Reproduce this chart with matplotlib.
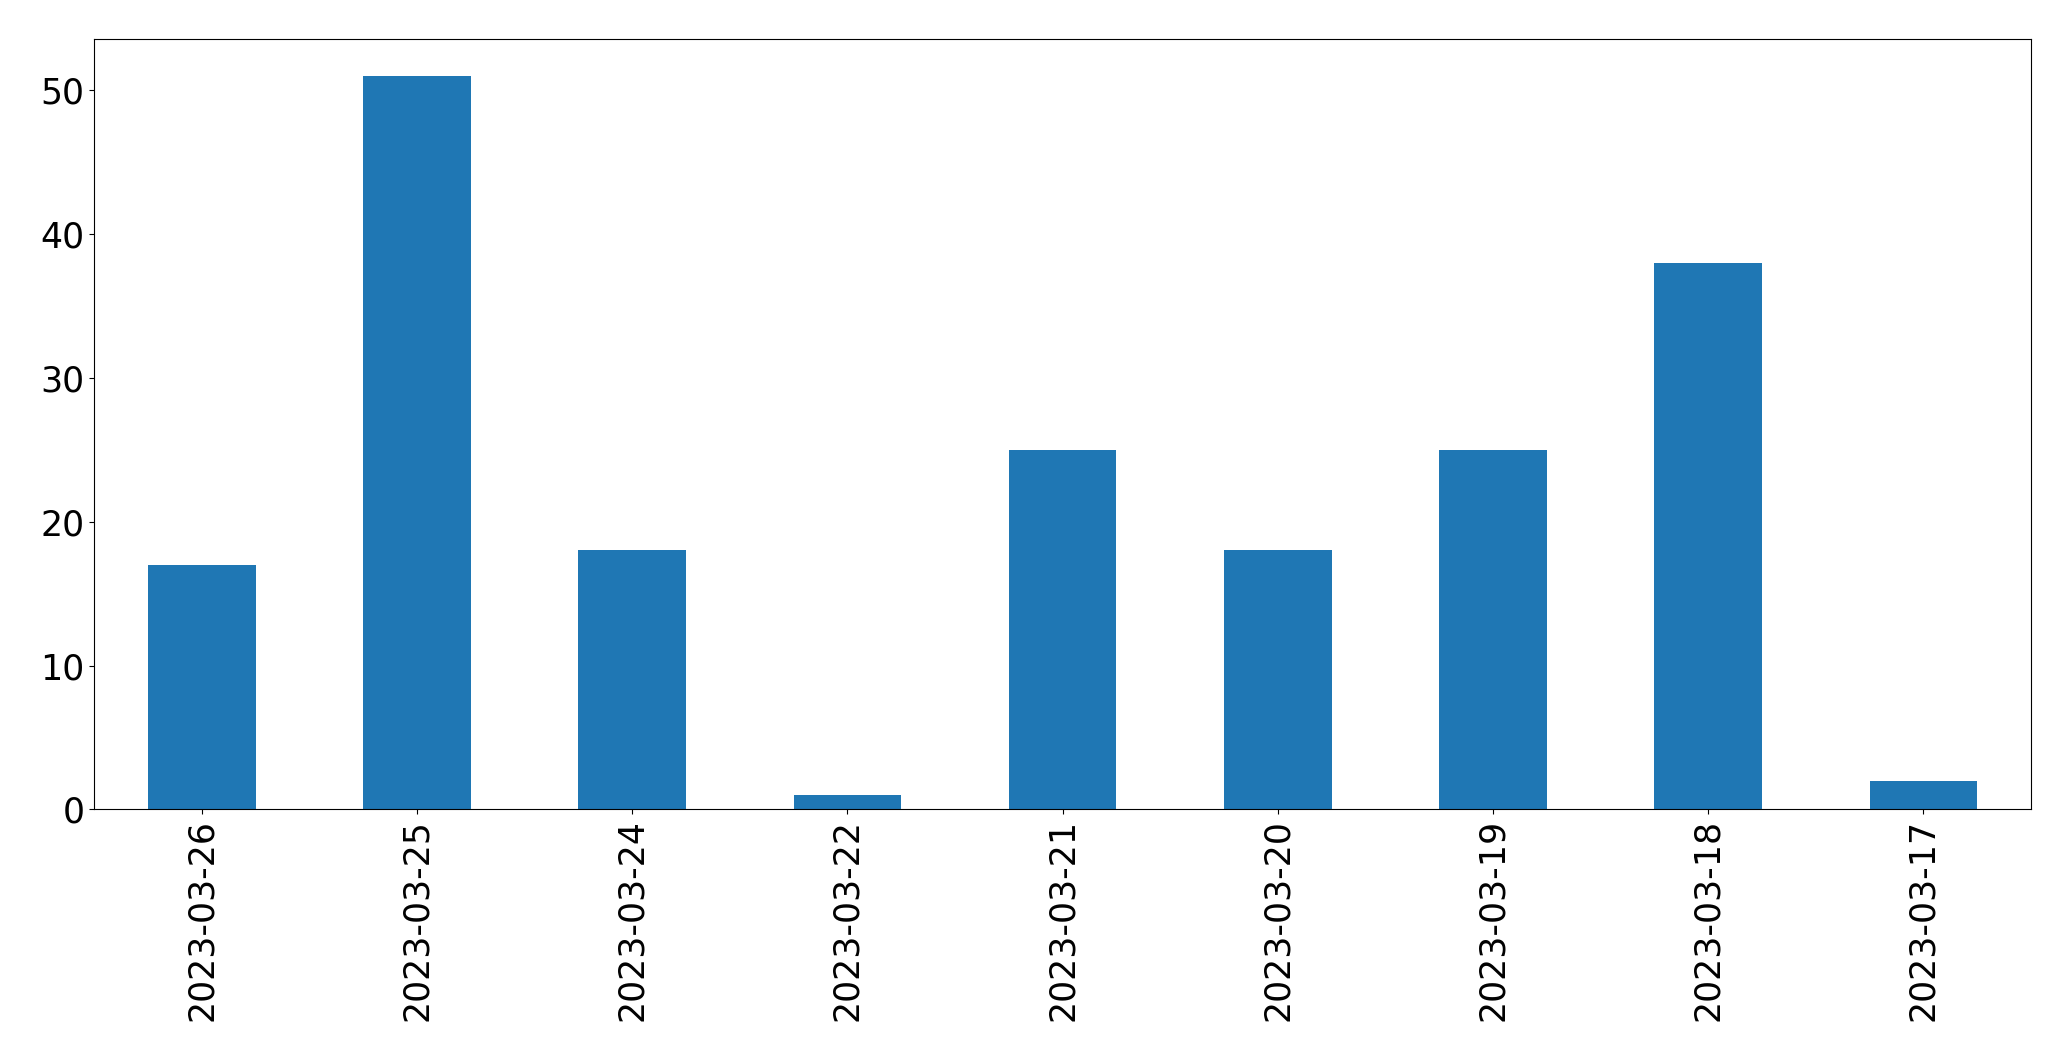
import matplotlib
matplotlib.use("Agg")
import matplotlib.pyplot as plt

dates = ["2023-03-26", "2023-03-25", "2023-03-24", "2023-03-22", "2023-03-21",
         "2023-03-20", "2023-03-19", "2023-03-18", "2023-03-17"]
counts = [17, 51, 18, 1, 25, 18, 25, 38, 2]

fig = plt.figure(figsize=(20.71, 10.61), dpi=100)
ax = fig.add_axes([94.3 / 2071, 1 - 809.3 / 1061, (2031 - 94.3) / 2071, (809.3 - 39.3) / 1061])
x = range(len(dates))
ax.bar(x, counts, width=0.5, color="#1f77b4")
ax.set_xticks(list(x))
ax.set_xticklabels(dates, rotation=90)
ax.set_xlim(-0.5, len(dates) - 0.5)
ax.tick_params(labelsize=25)
fig.savefig("out.png", dpi=100)
